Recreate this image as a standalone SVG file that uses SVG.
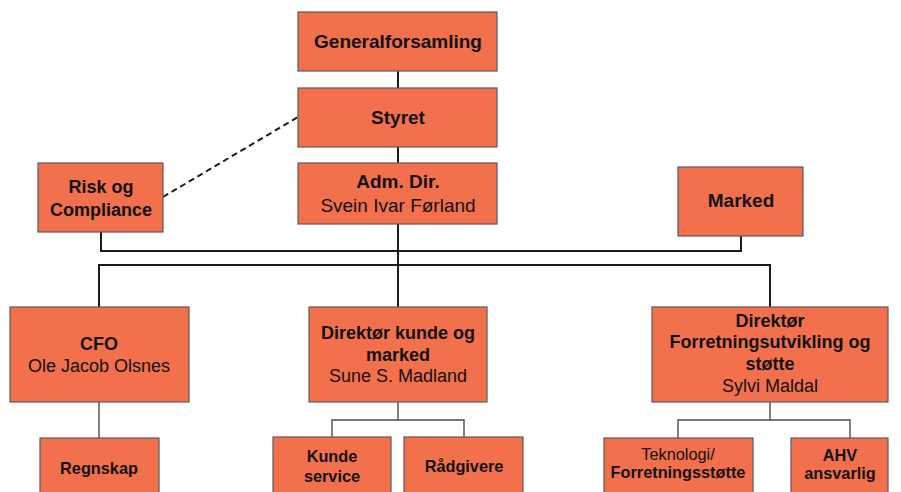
<svg xmlns="http://www.w3.org/2000/svg" width="901" height="492" viewBox="0 0 901 492">
<style>
.box{fill:#F2704C;stroke:#5a5a5a;stroke-width:1.2}
.t{font-family:"Liberation Sans",Arial,sans-serif;fill:#111;text-anchor:middle}
.b{font-weight:bold}
.l1{font-size:19px}
.l2{font-size:18px}
.l3{font-size:16.3px}
.main{fill:none;stroke:#1a1a1a;stroke-width:2}
.sub{fill:none;stroke:#4a4a4a;stroke-width:1.4}
.dash{fill:none;stroke:#1a1a1a;stroke-width:2;stroke-dasharray:6 4}
</style>
<rect width="901" height="492" fill="#fff"/>
<g id="connectors">
<line class="main" x1="398" y1="71" x2="398" y2="88"/>
<line class="main" x1="398" y1="147" x2="398" y2="163"/>
<line class="main" x1="398" y1="224" x2="398" y2="307"/>
<polyline class="main" points="101,232 101,251 741,251 741,236"/>
<polyline class="main" points="99,307 99,265 770,265 770,307"/>
<line class="dash" x1="163" y1="197" x2="298" y2="117"/>
<line class="sub" x1="99" y1="402" x2="99" y2="438"/>
<line class="sub" x1="398" y1="402" x2="398" y2="420"/>
<polyline class="sub" points="332,437 332,420 464,420 464,437"/>
<line class="sub" x1="770" y1="402" x2="770" y2="420"/>
<polyline class="sub" points="678,438 678,420 850,420 850,438"/>
</g>
<g id="generalforsamling">
<rect class="box" x="298" y="12" width="199" height="59"/>
<text class="t b l1" x="398" y="48">Generalforsamling</text>
</g>
<g id="styret">
<rect class="box" x="298" y="88" width="199" height="59"/>
<text class="t b l1" x="398" y="124">Styret</text>
</g>
<g id="adm-dir">
<rect class="box" x="298" y="163" width="199" height="61"/>
<text class="t b l1" x="398" y="188">Adm. Dir.</text>
<text class="t l1" x="398" y="212">Svein Ivar Førland</text>
</g>
<g id="risk">
<rect class="box" x="38" y="163" width="125" height="69"/>
<text class="t b l2" x="101" y="193">Risk og</text>
<text class="t b l2" x="101" y="216">Compliance</text>
</g>
<g id="marked">
<rect class="box" x="678" y="167" width="125" height="69"/>
<text class="t b l1" x="741" y="207">Marked</text>
</g>
<g id="cfo">
<rect class="box" x="10" y="307" width="179" height="95"/>
<text class="t b l2" x="99" y="350">CFO</text>
<text class="t l2" x="99" y="372">Ole Jacob Olsnes</text>
</g>
<g id="direktor-kunde">
<rect class="box" x="309" y="307" width="178" height="95"/>
<text class="t b l2" x="398" y="339">Direktør kunde og</text>
<text class="t b l2" x="398" y="361">marked</text>
<text class="t l2" x="398" y="382">Sune S. Madland</text>
</g>
<g id="direktor-forretning">
<rect class="box" x="652" y="307" width="236" height="95"/>
<text class="t b l2" x="770" y="327">Direktør</text>
<text class="t b l2" x="770" y="348">Forretningsutvikling og</text>
<text class="t b l2" x="770" y="370">støtte</text>
<text class="t l2" x="770" y="392">Sylvi Maldal</text>
</g>
<g id="regnskap">
<rect class="box" x="40" y="438" width="119" height="62"/>
<text class="t b l3" x="99" y="474">Regnskap</text>
</g>
<g id="kundeservice">
<rect class="box" x="273" y="437" width="118" height="63"/>
<text class="t b l3" x="332" y="462">Kunde</text>
<text class="t b l3" x="332" y="482">service</text>
</g>
<g id="radgivere">
<rect class="box" x="404" y="437" width="119" height="63"/>
<text class="t b l3" x="464" y="472">Rådgivere</text>
</g>
<g id="teknologi">
<rect class="box" x="604" y="438" width="149" height="62"/>
<text class="t l3" x="678" y="460">Teknologi/</text>
<text class="t b l3" x="678" y="478">Forretningsstøtte</text>
</g>
<g id="ahv">
<rect class="box" x="791" y="438" width="97" height="62"/>
<text class="t b l3" x="840" y="461">AHV</text>
<text class="t b l3" x="840" y="479">ansvarlig</text>
</g>
</svg>
